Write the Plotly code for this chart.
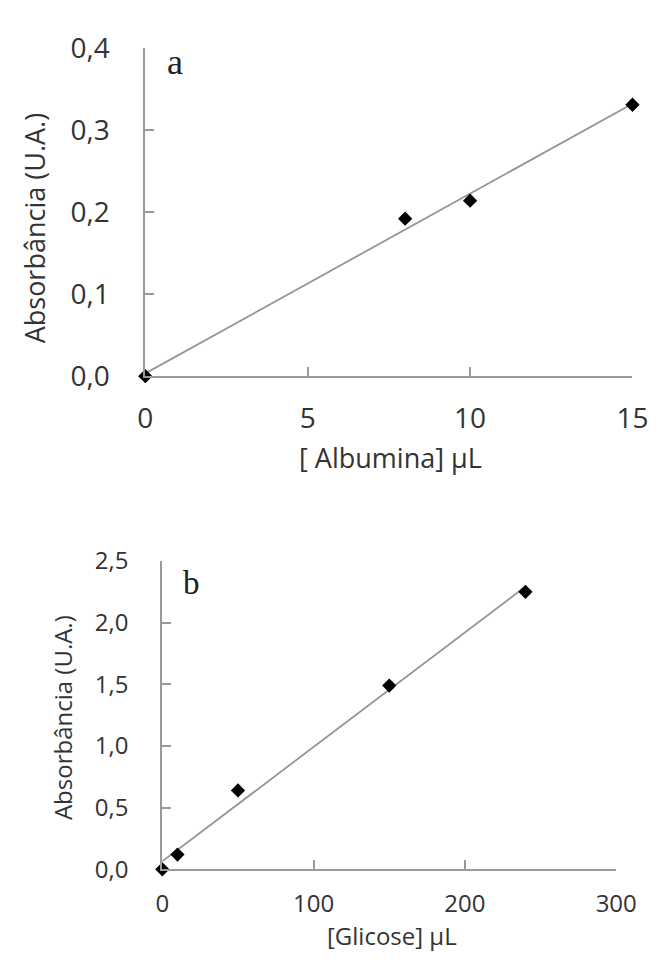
import numpy as np
import plotly.graph_objects as go

# Calibration data: albumin (panel a)
albumina_x = [0, 8, 10, 15]
albumina_abs = [0.0, 0.192, 0.214, 0.331]

# Calibration data: glucose (panel b)
glicose_x = [0, 10, 50, 150, 240]
glicose_abs = [0.0, 0.12, 0.64, 1.49, 2.25]

# tick labels
ticks_a_x = [0, 5, 10, 15]
ticks_a_y = [0.0, 0.1, 0.2, 0.3, 0.4]
ticks_b_x = [0, 100, 200, 300]
ticks_b_y = [0.0, 0.5, 1.0, 1.5, 2.0, 2.5]

W, H = 671, 970
AXIS_GRAY = "#9a9a9a"
TEXT = "#333333"
FONT = "Open Sans"


def linear_fit(x, y):
    slope, intercept = np.polyfit(x, y, 1)
    xs = np.array([min(x), max(x)], dtype=float)
    return xs, slope * xs + intercept


fig = go.Figure()

for xs, ys, xa, ya in [
    (albumina_x, albumina_abs, "x", "y"),
    (glicose_x, glicose_abs, "x2", "y2"),
]:
    lx, ly = linear_fit(xs, ys)
    fig.add_trace(go.Scatter(
        x=lx, y=ly, mode="lines", xaxis=xa, yaxis=ya,
        line=dict(color="#959595", width=1.8), showlegend=False,
        cliponaxis=False,
    ))
    fig.add_trace(go.Scatter(
        x=xs, y=ys, mode="markers", xaxis=xa, yaxis=ya,
        marker=dict(symbol="diamond", size=11, color="black"),
        showlegend=False, cliponaxis=False,
    ))


def px_x(a, b):
    return [a / W, b / W]


def px_y(top, bottom):
    return [(H - bottom) / H, (H - top) / H]


axis_common = dict(
    showline=True, linecolor=AXIS_GRAY, linewidth=2,
    ticks="inside", ticklen=9, tickcolor=AXIS_GRAY, tickwidth=2,
    showgrid=False, zeroline=False,
)

# panel boxes in pixels
A_X = (143.5, 652.7)
A_Y = (29.3, 370.7)
B_X = (161.3, 635.7)
B_Y = (563.0, 884.0)


def paper_xy(px, py):
    return px / W, (H - py) / H


annotations = []


def add_text(text, px, py, size, angle=0, family=FONT, color=TEXT):
    x, y = paper_xy(px, py)
    annotations.append(dict(
        text=text, x=x, y=y, xref="paper", yref="paper",
        xanchor="center", yanchor="middle", showarrow=False, textangle=angle,
        font=dict(family=family, size=size, color=color),
    ))


add_text("[ Albumina] µL", 400, 455, 27)
add_text("Absorbância (U.A.)", 27.5, 216.5, 27, angle=-90)
add_text("[Glicose] µL", 401.5, 953, 24)
add_text("Absorbância (U.A.)", 57, 726, 24, angle=-90)
add_text("a", 175, 44, 36, family="Liberation Serif", color="#222")
add_text("b", 192, 586, 33, family="Liberation Serif", color="#222")

fig.update_layout(
    width=W, height=H,
    margin=dict(l=0, r=0, t=0, b=0),
    paper_bgcolor="white", plot_bgcolor="white",
    separators=",.",
    font=dict(family=FONT, color=TEXT),
    xaxis=dict(
        domain=px_x(*A_X), range=[0, 15], anchor="y",
        tickvals=ticks_a_x, tickfont=dict(size=28), ticklabelstandoff=16,
        **axis_common,
    ),
    yaxis=dict(
        domain=px_y(*A_Y), range=[0, 0.4], anchor="x",
        tickvals=ticks_a_y, tickformat=".1f", tickfont=dict(size=28),
        ticklabelstandoff=28,
        **axis_common,
    ),
    xaxis2=dict(
        domain=px_x(*B_X), range=[0, 300], anchor="y2",
        tickvals=ticks_b_x, tickfont=dict(size=24), ticklabelstandoff=12,
        **axis_common,
    ),
    yaxis2=dict(
        domain=px_y(*B_Y), range=[0, 2.5], anchor="x2",
        tickvals=ticks_b_y, tickformat=".1f", tickfont=dict(size=24),
        ticklabelstandoff=27,
        **axis_common,
    ),
    annotations=annotations,
)

fig.write_html("out.html")
